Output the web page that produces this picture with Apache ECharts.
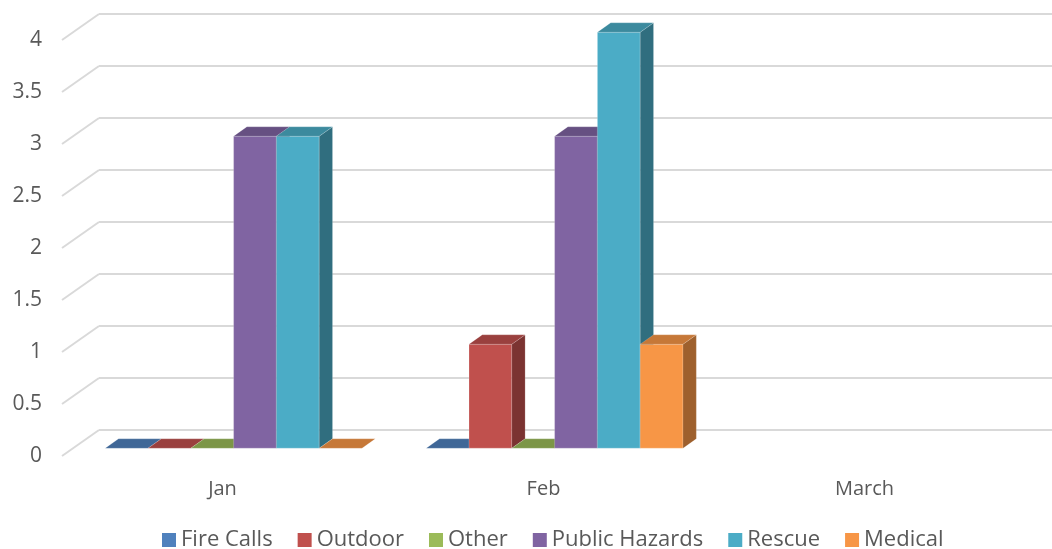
<!DOCTYPE html>
<html lang="en">
<head>
    <meta charset="UTF-8">
    <script src="https://cdn.jsdelivr.net/npm/echarts@6/dist/echarts.min.js"></script>
    <style>
        html, body { margin: 0; padding: 0; background: #fff; }
    </style>
</head>
<body>
<div id="main" style="width: 1052px;height:549px;"></div>
<script type="text/javascript">
    // data
    var categories = ['Jan', 'Feb', 'March'];
    var fireCalls = [0, 0, null];
    var outdoor = [0, 1, null];
    var other = [0, 0, null];
    var publicHazards = [3, 3, null];
    var rescue = [3, 4, null];
    var medical = [0, 1, null];
    var yTicks = [0, 0.5, 1, 1.5, 2, 2.5, 3, 3.5, 4];

    var seriesNames = ['Fire Calls', 'Outdoor', 'Other', 'Public Hazards', 'Rescue', 'Medical'];
    var seriesData = [fireCalls, outdoor, other, publicHazards, rescue, medical];
    var colors = ['#4F81BD', '#C0504D', '#9BBB59', '#8064A2', '#4BACC6', '#F79646'];

    // 3d depth offset of the back wall
    var DX = 37, DY = -26;
    var F1 = 0.3, F2 = 0.66;   // bar front / back depth fraction

    function shade(hex, k) {
        var n = parseInt(hex.slice(1), 16);
        var r = Math.round(((n >> 16) & 255) * k);
        var g = Math.round(((n >> 8) & 255) * k);
        var b = Math.round((n & 255) * k);
        return 'rgb(' + r + ',' + g + ',' + b + ')';
    }

    var myChart = echarts.init(document.getElementById('main'));

    // back wall + side diagonals
    var wallSeries = {
        type: 'custom',
        silent: true,
        z: 1,
        data: yTicks.map(function (v) { return [0, v]; }),
        renderItem: function (params, api) {
            var cs = params.coordSys;
            var y = api.coord([0, api.value(1)])[1];
            var style = { stroke: '#d9d9d9', lineWidth: 2, fill: null };
            return {
                type: 'group',
                children: [
                    { type: 'line', shape: { x1: cs.x, y1: y, x2: cs.x + DX, y2: y + DY }, style: style },
                    { type: 'line', shape: { x1: cs.x + DX, y1: y + DY, x2: cs.x + cs.width + DX, y2: y + DY }, style: style }
                ]
            };
        }
    };

    function makeBarSeries(sIdx) {
        var base = colors[sIdx];
        return {
            name: seriesNames[sIdx],
            type: 'custom',
            z: 2 + sIdx,
            itemStyle: { color: base },
            data: seriesData[sIdx].map(function (v, i) { return [i, v == null ? '-' : v]; }),
            renderItem: function (params, api) {
                var v = api.value(1);
                if (v == null || isNaN(v)) return null;
                var i = api.value(0);
                var band = api.size([1, 0])[0];
                var groupW = band * 0.8;
                var barW = groupW / seriesNames.length;
                var cx = api.coord([i, 0])[0];
                var x0 = cx - groupW / 2 + sIdx * barW + F1 * DX;
                var x1 = x0 + barW;
                var yb = api.coord([i, 0])[1] + F1 * DY;
                var yt = api.coord([i, v])[1] + F1 * DY;
                var ddx = (F2 - F1) * DX, ddy = (F2 - F1) * DY;
                var children = [];
                if (v > 0) {
                    children.push({
                        type: 'rect',
                        shape: { x: x0, y: yt, width: barW, height: yb - yt },
                        style: { fill: base, stroke: 'rgba(255,255,255,0.35)', lineWidth: 0.6 }
                    });
                    children.push({
                        type: 'polygon',
                        shape: { points: [[x1, yt], [x1 + ddx, yt + ddy], [x1 + ddx, yb + ddy], [x1, yb]] },
                        style: { fill: shade(base, 0.64), stroke: 'rgba(255,255,255,0.25)', lineWidth: 0.6 }
                    });
                }
                children.push({
                    type: 'polygon',
                    shape: { points: [[x0, yt], [x1, yt], [x1 + ddx, yt + ddy], [x0 + ddx, yt + ddy]] },
                    style: { fill: shade(base, 0.8), stroke: 'rgba(255,255,255,0.25)', lineWidth: 0.6 }
                });
                return { type: 'group', children: children };
            }
        };
    }

    var series = [wallSeries];
    for (var s = 0; s < seriesNames.length; s++) series.push(makeBarSeries(s));

    var option = {
        animation: false,
        textStyle: { fontFamily: 'Open Sans' },
        grid: { left: 62, top: 40, width: 963, height: 416 },
        legend: {
            data: seriesNames,
            top: 524,
            left: 157,
            icon: 'rect',
            itemWidth: 14,
            itemHeight: 14,
            itemGap: 25,
            textStyle: { fontSize: 22, color: '#595959', fontFamily: 'Open Sans' }
        },
        xAxis: {
            type: 'category',
            data: categories,
            axisLine: { show: false },
            axisTick: { show: false },
            axisLabel: { fontSize: 20, color: '#595959', margin: 23 }
        },
        yAxis: {
            type: 'value',
            min: 0,
            max: 4,
            interval: 0.5,
            axisLine: { show: false },
            axisTick: { show: false },
            splitLine: { show: false },
            axisLabel: { fontSize: 21, color: '#595959', margin: 20 }
        },
        series: series
    };

    myChart.setOption(option);
</script>
</body>
</html>
